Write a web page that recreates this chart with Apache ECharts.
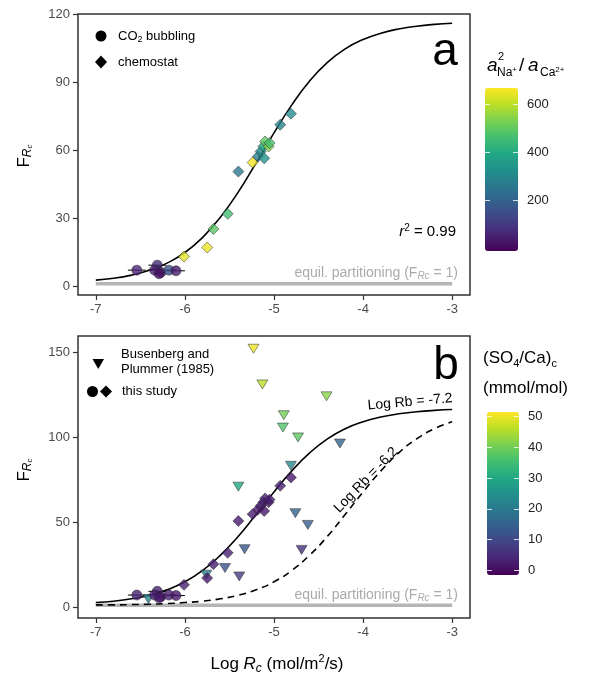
<!DOCTYPE html>
<html><head><meta charset="utf-8">
<script src="https://cdn.jsdelivr.net/npm/echarts@6/dist/echarts.min.js"></script>
<style>html,body{margin:0;padding:0;background:#fff}#c{width:591px;height:673px}</style>
</head><body><div id="c"></div>
<script>
// ---------- data ----------
var xTicks = [-7, -6, -5, -4, -3];
var yTicksA = [0, 30, 60, 90, 120];
var yTicksB = [0, 50, 100, 150];
var cbTicksA = [200, 400, 600];
var cbTicksB = [0, 10, 20, 30, 40, 50];

// fitted curves
var logRcGrid = [-7.0,-6.8,-6.6,-6.4,-6.2,-6.0,-5.8,-5.6,-5.4,-5.2,-5.0,-4.8,-4.6,-4.4,-4.2,-4.0,-3.8,-3.6,-3.4,-3.2,-3.0];
var fitRb72 = [2.6,3.4,4.8,6.9,10.1,14.8,21.5,30.5,41.6,54.5,67.7,80.1,90.7,98.9,104.9,109.0,111.8,113.7,114.9,115.7,116.2];
var fitRb62 = [1.2,1.2,1.4,1.6,2.0,2.6,3.4,4.8,6.9,10.1,14.8,21.5,30.5,41.6,54.5,67.7,80.1,90.7,98.9,104.9,109.0];
var equilX = [-7, -3];
var equilY = [1, 1];

// CO2 bubbling (circles)
var circX = [-6.54, -6.31, -6.34, -6.27, -6.29, -6.18, -6.10];
var circY = [7.0, 9.2, 7.0, 6.0, 5.4, 7.0, 6.7];
var circXErr = [0.10, 0.10, 0.08, 0.05, 0.05, 0.08, 0.10];
var circNaCa = [60, 70, 50, 30, 20, 150, 40];
var circSO4 = [3, 3, 3, 2, 2, 3, 2];

// chemostat (diamonds)
var diaX = [-6.01, -5.75, -5.68, -5.52, -5.40, -5.24, -5.18, -5.15, -5.11, -5.12, -5.10, -5.06, -5.05, -4.93, -4.81];
var diaY = [13.0, 17.0, 25.2, 31.9, 50.6, 54.6, 57.3, 59.5, 56.5, 61.7, 63.9, 61.7, 63.2, 71.3, 76.2];
var diaNaCa = [640, 650, 490, 460, 260, 655, 280, 300, 330, 400, 500, 540, 470, 285, 320];
var diaSO4 = [3, 2, 3, 3, 2, 3, 2, 3, 2, 3, 3, 2, 3, 3, 2];

// Busenberg and Plummer (1985) (triangles)
var bpX = [-5.23, -5.13, -4.89, -4.90, -4.73, -4.41, -4.26, -4.81, -5.40, -4.76, -4.62, -4.69, -5.33, -5.55, -5.76, -5.39, -6.41];
var bpY = [152.0, 131.0, 112.9, 105.6, 99.8, 124.0, 96.2, 83.1, 70.8, 55.2, 48.3, 33.6, 34.0, 22.9, 19.0, 18.0, 4.7];
var bpSO4 = [50, 46, 40, 37, 38, 42, 15, 23, 30, 15, 14, 6, 13, 12, 21, 8, 22];

// ---------- helpers ----------
var viridis = ['#440154','#482475','#414487','#355f8d','#2a788e','#21918c','#22a884','#44bf70','#7ad151','#bddf26','#fde725'];
function zip(a, b, c) { return a.map(function (v, i) { return c ? [v, b[i], c[i]] : [v, b[i]]; }); }
var FONT = '"Liberation Sans", Arial, sans-serif';
var tickCol = '#4d4d4d';

function errBar(xi, yi) {
  return {
    type: 'custom', xAxisIndex: xi, yAxisIndex: yi, z: 3,
    data: zip(circX, circY, circXErr),
    renderItem: function (params, api) {
      var x = api.value(0), y = api.value(1), e = api.value(2);
      var p1 = api.coord([x - e, y]), p2 = api.coord([x + e, y]);
      return { type: 'line', shape: { x1: p1[0], y1: p1[1], x2: p2[0], y2: p2[1] }, style: { stroke: '#000', lineWidth: 1 } };
    }
  };
}
function xAx(gi) {
  return {
    gridIndex: gi, type: 'value', min: -7.2, max: -2.8, position: 'bottom',
    axisLine: { show: false, onZero: false },
    axisTick: { inside: false, customValues: xTicks, length: 5, lineStyle: { color: '#333', width: 1.2 } },
    axisLabel: { customValues: xTicks, color: tickCol, fontSize: 13, fontFamily: FONT, margin: 8 },
    splitLine: { show: false }
  };
}
function yAx(gi, mn, mx, ticks) {
  return {
    gridIndex: gi, type: 'value', min: mn, max: mx, position: 'left',
    axisLine: { show: false, onZero: false },
    axisTick: { inside: false, customValues: ticks, length: 5, lineStyle: { color: '#333', width: 1.2 } },
    axisLabel: { customValues: ticks, color: tickCol, fontSize: 13, fontFamily: FONT, margin: 8 },
    splitLine: { show: false }
  };
}
function cbAx(gi, mn, mx, ticks, pos, labels) {
  return {
    gridIndex: gi, type: 'value', min: mn, max: mx, position: pos, z: 30,
    axisLine: { show: false, onZero: false },
    axisTick: { show: true, inside: true, customValues: ticks, length: 5, lineStyle: { color: 'rgba(255,255,255,0.8)', width: 1 } },
    axisLabel: { show: labels, customValues: ticks, color: '#222', fontSize: 13, fontFamily: FONT, margin: 9 },
    splitLine: { show: false }
  };
}
var scatBorder = { borderColor: '#222', borderWidth: 0.6 };

var option = {
  animation: false,
  backgroundColor: '#fff',
  textStyle: { fontFamily: FONT },
  grid: [
    { left: 78, top: 14, width: 392, height: 281, show: true, borderColor: '#333', borderWidth: 1.5, backgroundColor: 'transparent' },
    { left: 78, top: 336, width: 392, height: 282, show: true, borderColor: '#333', borderWidth: 1.5, backgroundColor: 'transparent' },
    { left: 485, top: 88, width: 33, height: 163, show: false },
    { left: 487, top: 412, width: 32, height: 163, show: false }
  ],
  xAxis: [
    xAx(0), xAx(1),
    { gridIndex: 2, type: 'value', show: false },
    { gridIndex: 3, type: 'value', show: false }
  ],
  yAxis: [
    yAx(0, -4, 120.3, yTicksA),
    yAx(1, -6.5, 159.5, yTicksB),
    cbAx(2, -12, 667, cbTicksA, 'right', true),
    cbAx(2, -12, 667, cbTicksA, 'left', false),
    cbAx(3, -1.5, 51.5, cbTicksB, 'right', true),
    cbAx(3, -1.5, 51.5, cbTicksB, 'left', false)
  ],
  visualMap: [
    { type: 'continuous', min: -12, max: 667, dimension: 2, seriesIndex: [3, 4], inRange: { color: viridis },
      left: 485, top: 88, itemWidth: 33, itemHeight: 163, calculable: false, padding: 0, text: null, showLabel: false, hoverLink: false, z: 2 },
    { type: 'continuous', min: -1.5, max: 51.5, dimension: 2, seriesIndex: [9, 10, 11], inRange: { color: viridis },
      left: 487, top: 412, itemWidth: 32, itemHeight: 163, calculable: false, padding: 0, text: null, showLabel: false, hoverLink: false, z: 2 }
  ],
  series: [
    // panel a
    { type: 'line', xAxisIndex: 0, yAxisIndex: 0, data: zip(logRcGrid, fitRb72), smooth: true, symbol: 'none', lineStyle: { color: '#000', width: 1.6 }, z: 2 },
    { type: 'line', xAxisIndex: 0, yAxisIndex: 0, data: zip(equilX, equilY), symbol: 'none', lineStyle: { color: '#b5b5b5', width: 3.5 }, z: 1 },
    errBar(0, 0),
    { type: 'scatter', xAxisIndex: 0, yAxisIndex: 0, data: zip(circX, circY, circNaCa), symbol: 'circle', symbolSize: 10, itemStyle: scatBorder, z: 4 },
    { type: 'scatter', xAxisIndex: 0, yAxisIndex: 0, data: zip(diaX, diaY, diaNaCa), symbol: 'diamond', symbolSize: 11, itemStyle: scatBorder, z: 4 },
    // panel b
    { type: 'line', xAxisIndex: 1, yAxisIndex: 1, data: zip(equilX, equilY), symbol: 'none', lineStyle: { color: '#b5b5b5', width: 3.5 }, z: 1 },
    { type: 'line', xAxisIndex: 1, yAxisIndex: 1, data: zip(logRcGrid, fitRb72), smooth: true, symbol: 'none', lineStyle: { color: '#000', width: 1.6 }, z: 2 },
    { type: 'line', xAxisIndex: 1, yAxisIndex: 1, data: zip(logRcGrid, fitRb62), smooth: true, symbol: 'none', lineStyle: { color: '#000', width: 1.6, type: [7, 5] }, z: 2 },
    errBar(1, 1),
    { type: 'scatter', xAxisIndex: 1, yAxisIndex: 1, data: zip(bpX, bpY, bpSO4), symbol: 'triangle', symbolRotate: 180, symbolSize: [11, 9], itemStyle: scatBorder, z: 4 },
    { type: 'scatter', xAxisIndex: 1, yAxisIndex: 1, data: zip(diaX, diaY, diaSO4), symbol: 'diamond', symbolSize: 11, itemStyle: scatBorder, z: 4 },
    { type: 'scatter', xAxisIndex: 1, yAxisIndex: 1, data: zip(circX, circY, circSO4), symbol: 'circle', symbolSize: 10, itemStyle: scatBorder, z: 4 }
  ],
  graphic: [
    // legend a
    { type: 'circle', shape: { cx: 101, cy: 36, r: 5.5 }, style: { fill: '#000' } },
    { type: 'text', x: 118, y: 36, style: { text: '{n|CO}{s|2}{n| bubbling}', textVerticalAlign: 'middle', rich: {
        n: { fontSize: 13, fontFamily: FONT, fill: '#000', lineHeight: 16 },
        s: { fontSize: 9, fontFamily: FONT, fill: '#000', lineHeight: 10, verticalAlign: 'bottom' } } } },
    { type: 'polygon', shape: { points: [[101, 55.5], [107, 62], [101, 68.5], [95, 62]] }, style: { fill: '#000' } },
    { type: 'text', x: 118, y: 62, style: { text: 'chemostat', font: '13px ' + FONT, fill: '#000', textVerticalAlign: 'middle' } },
    // legend b
    { type: 'polygon', shape: { points: [[92.5, 359], [104, 359], [98.25, 369]] }, style: { fill: '#000' } },
    { type: 'text', x: 121, y: 362, style: { text: 'Busenberg and\nPlummer (1985)', font: '13px ' + FONT, fill: '#000', textVerticalAlign: 'middle', lineHeight: 15 } },
    { type: 'circle', shape: { cx: 92.5, cy: 391.5, r: 5.5 }, style: { fill: '#000' } },
    { type: 'polygon', shape: { points: [[106, 385.5], [112, 391.5], [106, 397.5], [100, 391.5]] }, style: { fill: '#000' } },
    { type: 'text', x: 122, y: 391.5, style: { text: 'this study', font: '13px ' + FONT, fill: '#000', textVerticalAlign: 'middle' } },
    // panel letters
    { type: 'text', x: 445, y: 52, style: { text: 'a', font: '46px ' + FONT, fill: '#000', textAlign: 'center', textVerticalAlign: 'middle' } },
    { type: 'text', x: 446, y: 366, style: { text: 'b', font: '46px ' + FONT, fill: '#000', textAlign: 'center', textVerticalAlign: 'middle' } },
    // r2
    { type: 'text', x: 456, y: 232, style: { text: '{i|r}{p|2}{n| = 0.99}', textAlign: 'right', textVerticalAlign: 'middle', rich: {
        i: { fontSize: 15, fontStyle: 'italic', fontFamily: FONT, fill: '#000', lineHeight: 18 },
        p: { fontSize: 10, fontFamily: FONT, fill: '#000', lineHeight: 10, verticalAlign: 'top' },
        n: { fontSize: 15, fontFamily: FONT, fill: '#000', lineHeight: 18 } } } },
    // equil text a & b
    { type: 'text', x: 458, y: 273, style: { text: '{n|equil. partitioning (F}{s|Rc}{n| = 1)}', textAlign: 'right', textVerticalAlign: 'middle', rich: {
        n: { fontSize: 14, fontFamily: FONT, fill: '#aaaaaa', lineHeight: 17 },
        s: { fontSize: 10, fontStyle: 'italic', fontFamily: FONT, fill: '#aaaaaa', lineHeight: 12, verticalAlign: 'bottom' } } } },
    { type: 'text', x: 458, y: 595, style: { text: '{n|equil. partitioning (F}{s|Rc}{n| = 1)}', textAlign: 'right', textVerticalAlign: 'middle', rich: {
        n: { fontSize: 14, fontFamily: FONT, fill: '#aaaaaa', lineHeight: 17 },
        s: { fontSize: 10, fontStyle: 'italic', fontFamily: FONT, fill: '#aaaaaa', lineHeight: 12, verticalAlign: 'bottom' } } } },
    // curve labels
    { type: 'text', x: 410, y: 402, rotation: 5 * Math.PI / 180, style: { text: 'Log Rb = -7.2', font: '14px ' + FONT, fill: '#000', textAlign: 'center', textVerticalAlign: 'middle' } },
    { type: 'text', x: 366, y: 480, rotation: 46 * Math.PI / 180, style: { text: 'Log Rb = -6.2', font: '14px ' + FONT, fill: '#000', textAlign: 'center', textVerticalAlign: 'middle' } },
    // y-axis titles
    { type: 'text', x: 24, y: 156, rotation: Math.PI / 2, style: { text: '{n|F}{s|R}{c|c}', textAlign: 'center', textVerticalAlign: 'middle', rich: {
        n: { fontSize: 17, fontFamily: FONT, fill: '#000', lineHeight: 20 },
        s: { fontSize: 12, fontStyle: 'italic', fontFamily: FONT, fill: '#000', lineHeight: 13, verticalAlign: 'bottom' },
        c: { fontSize: 8, fontStyle: 'italic', fontFamily: FONT, fill: '#000', lineHeight: 9, verticalAlign: 'bottom' } } } },
    { type: 'text', x: 24, y: 470, rotation: Math.PI / 2, style: { text: '{n|F}{s|R}{c|c}', textAlign: 'center', textVerticalAlign: 'middle', rich: {
        n: { fontSize: 17, fontFamily: FONT, fill: '#000', lineHeight: 20 },
        s: { fontSize: 12, fontStyle: 'italic', fontFamily: FONT, fill: '#000', lineHeight: 13, verticalAlign: 'bottom' },
        c: { fontSize: 8, fontStyle: 'italic', fontFamily: FONT, fill: '#000', lineHeight: 9, verticalAlign: 'bottom' } } } },
    // x-axis title
    { type: 'text', x: 277, y: 664, style: { text: '{n|Log }{i|R}{s|c}{n| (mol/m}{p|2}{n|/s)}', textAlign: 'center', textVerticalAlign: 'middle', rich: {
        n: { fontSize: 17, fontFamily: FONT, fill: '#000', lineHeight: 22 },
        i: { fontSize: 17, fontStyle: 'italic', fontFamily: FONT, fill: '#000', lineHeight: 22 },
        s: { fontSize: 12, fontStyle: 'italic', fontFamily: FONT, fill: '#000', lineHeight: 14, verticalAlign: 'bottom' },
        p: { fontSize: 11, fontFamily: FONT, fill: '#000', lineHeight: 13, verticalAlign: 'top' } } } },
    // colorbar title a
    { type: 'text', x: 487, y: 66, style: { text: 'a', font: 'italic 19px ' + FONT, fill: '#000', textVerticalAlign: 'middle' } },
    { type: 'text', x: 498, y: 57, style: { text: '2', font: '11px ' + FONT, fill: '#000', textVerticalAlign: 'middle' } },
    { type: 'text', x: 497, y: 73, style: { text: '{n|Na}{p|+}', textVerticalAlign: 'middle', rich: {
        n: { fontSize: 12, fontFamily: FONT, fill: '#000', lineHeight: 14 },
        p: { fontSize: 8, fontFamily: FONT, fill: '#000', lineHeight: 9, verticalAlign: 'top' } } } },
    { type: 'text', x: 519, y: 66, style: { text: '/', font: '19px ' + FONT, fill: '#000', textVerticalAlign: 'middle' } },
    { type: 'text', x: 528, y: 66, style: { text: 'a', font: 'italic 19px ' + FONT, fill: '#000', textVerticalAlign: 'middle' } },
    { type: 'text', x: 540, y: 73, style: { text: '{n|Ca}{p|2+}', textVerticalAlign: 'middle', rich: {
        n: { fontSize: 12, fontFamily: FONT, fill: '#000', lineHeight: 14 },
        p: { fontSize: 8, fontFamily: FONT, fill: '#000', lineHeight: 9, verticalAlign: 'top' } } } },
    // colorbar title b
    { type: 'text', x: 483, y: 358, style: { text: '{n|(SO}{s|4}{n|/Ca)}{s|c}', textVerticalAlign: 'middle', rich: {
        n: { fontSize: 17, fontFamily: FONT, fill: '#000', lineHeight: 22 },
        s: { fontSize: 11, fontFamily: FONT, fill: '#000', lineHeight: 13, verticalAlign: 'bottom' } } } },
    { type: 'text', x: 483, y: 388, style: { text: '(mmol/mol)', font: '17px ' + FONT, fill: '#000', textVerticalAlign: 'middle' } }
  ]
};
var chart = echarts.init(document.getElementById('c'), null, { renderer: 'canvas' });
chart.setOption(option);
</script></body></html>
